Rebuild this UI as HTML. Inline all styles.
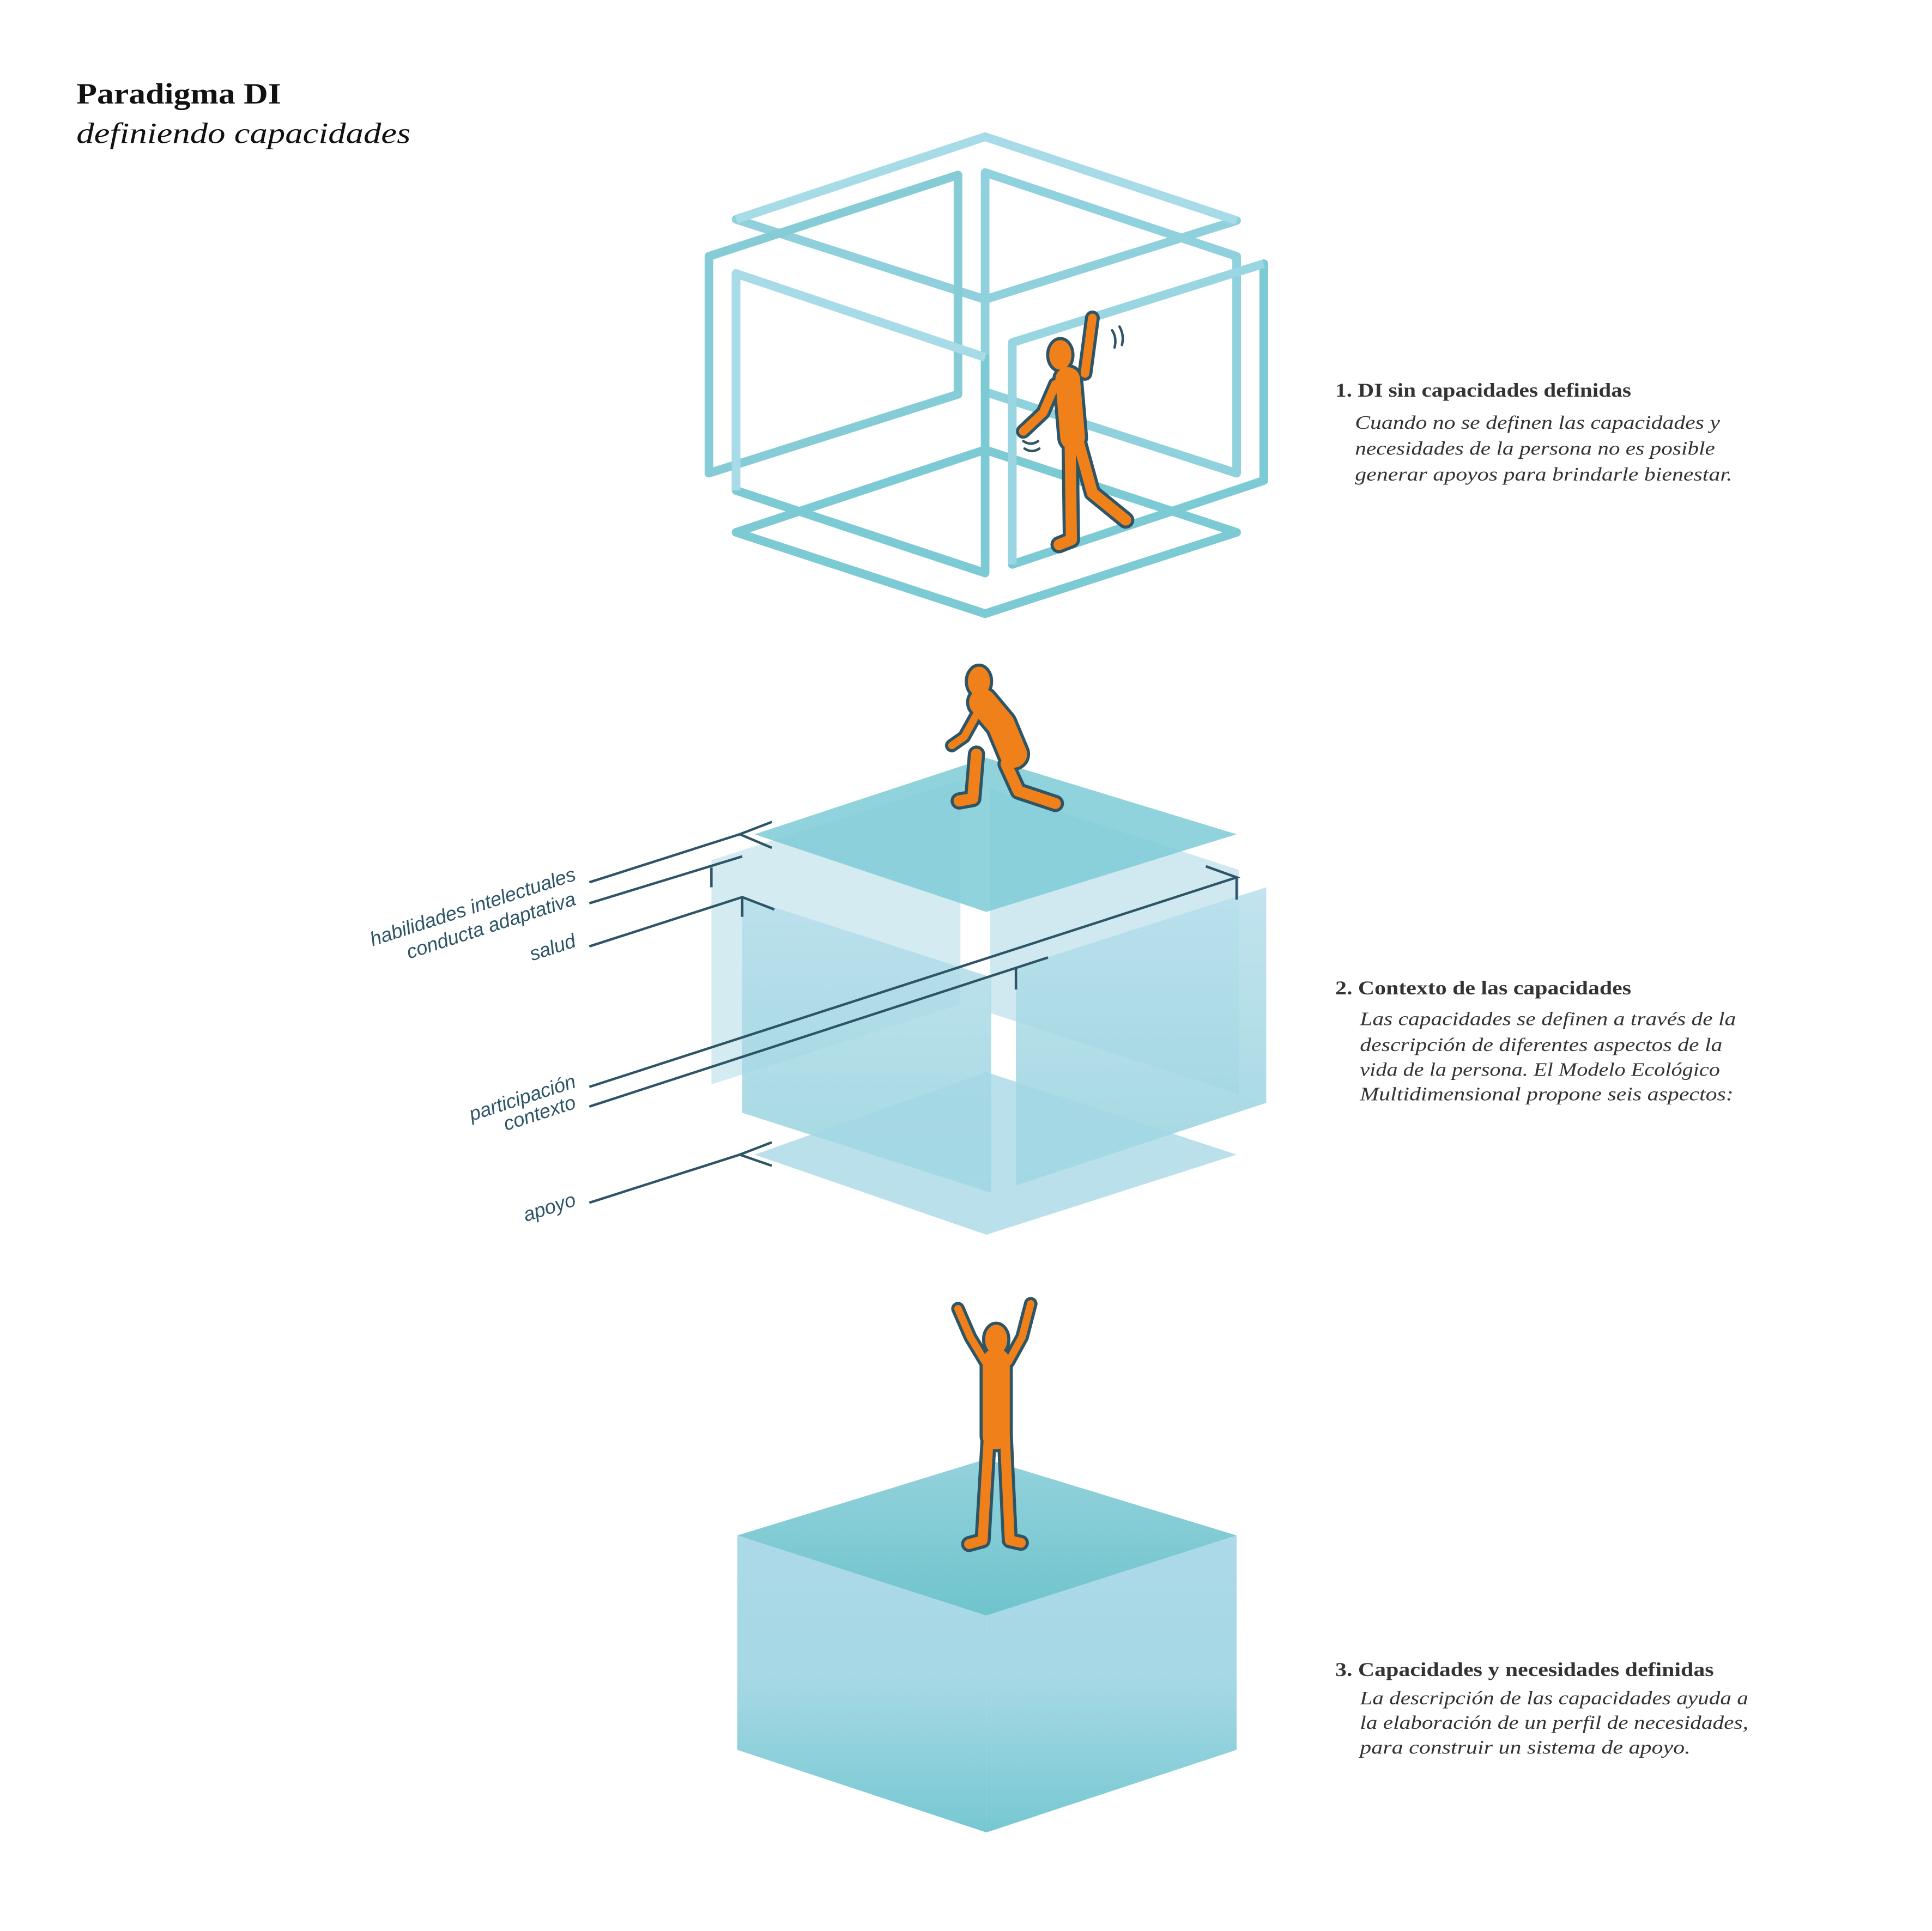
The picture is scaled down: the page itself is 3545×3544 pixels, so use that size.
<!DOCTYPE html>
<html><head><meta charset="utf-8">
<style>
html,body{margin:0;padding:0;background:#fff;}
svg{display:block;}
.ser{font-family:"Liberation Serif",serif;fill:#333;}
.lab{font-family:"Liberation Sans",sans-serif;font-style:italic;fill:#2e5566;font-size:16px;}
</style></head>
<body>
<svg width="3545" height="3544" viewBox="0 0 1567 1567" preserveAspectRatio="none" xmlns="http://www.w3.org/2000/svg">
<defs>
<linearGradient id="gTop" x1="0" y1="0" x2="0" y2="1"><stop offset="0" stop-color="#93d2dc"/><stop offset="1" stop-color="#6fc4cd"/></linearGradient>
<linearGradient id="gSide" x1="0" y1="0" x2="0" y2="1"><stop offset="0" stop-color="#add9e8"/><stop offset="0.5" stop-color="#a5d8e5"/><stop offset="1" stop-color="#76c8d2"/></linearGradient>
<linearGradient id="gWall" x1="0" y1="0" x2="0" y2="1"><stop offset="0" stop-color="#b7dfec"/><stop offset="1" stop-color="#93d1dc"/></linearGradient>
</defs>

<text class="ser" x="62" y="84" font-size="24" font-weight="bold" style="fill:#111" textLength="166" lengthAdjust="spacingAndGlyphs">Paradigma DI</text>
<text class="ser" x="62" y="116" font-size="24" font-style="italic" style="fill:#111" textLength="271" lengthAdjust="spacingAndGlyphs">definiendo capacidades</text>

<g fill="none" stroke-width="7" stroke-linejoin="round">
<polygon points="799,111 1003,179 799,243 597,178" stroke="#8fd0dc"/>
<polyline points="597,178 799,111 1003,179" stroke="#a8dbe8"/>
<polygon points="575,208 777,142 777,320 575,384" stroke="#86ccd7"/>
<polygon points="799,140 1003,208 1003,384 799,318" stroke="#8fd1dc"/>
<polygon points="799,365 1003,432 799,498 597,432" stroke="#7ccad4"/>
<polygon points="597,222 799,290 799,465 597,398" stroke="#7ccad4"/>
<polyline points="597,398 597,222 799,290" stroke="#a8dbe8"/>
<polygon points="821,278 1025,214 1025,390 821,458" stroke="#7ccad4"/>
<polyline points="821,458 821,278 1025,214" stroke="#9ad6e2"/>
</g>

<g fill="none" stroke-linecap="round" stroke-linejoin="round">
<g stroke="#2e5566">
<polyline points="866,308 870,355" stroke-width="25"/>
<polyline points="880,303 886,258" stroke-width="12"/>
<polyline points="856,312 846,335 830,350" stroke-width="12"/>
<polyline points="868,360 869,438 859,442" stroke-width="14"/>
<polyline points="875,360 886,400 913,422" stroke-width="14"/>
<ellipse cx="860" cy="288" rx="10" ry="13" fill="#2e5566" stroke-width="3"/>
</g>
<g stroke="#f0801a">
<polyline points="866,308 870,355" stroke-width="20"/>
<polyline points="880,303 886,258" stroke-width="7"/>
<polyline points="856,312 846,335 830,350" stroke-width="7"/>
<polyline points="868,360 869,438 859,442" stroke-width="9"/>
<polyline points="875,360 886,400 913,422" stroke-width="9"/>
</g>
<ellipse cx="860" cy="288" rx="9" ry="12" fill="#f0801a"/>
<path d="M902,268 Q906,274 904,282 M908,265 Q912,272 910,280 M830,358 Q836,362 842,358 M831,364 Q837,368 843,364" stroke="#2e5566" stroke-width="2"/>
</g>

<g>
<polygon points="577,698 779,633 779,815 577,880" fill="#c9e6ee" opacity="0.8"/>
<polygon points="803,640 1005,706 1005,888 803,822" fill="#c4e4ee" opacity="0.8"/>
<polygon points="602,728 804,793 804,968 602,903" fill="url(#gWall)" opacity="0.85"/>
<polygon points="824,785 1027,720 1027,895 824,962" fill="url(#gWall)" opacity="0.85"/>
<polygon points="612,937 800,870 1003,937 800,1002" fill="#a3d7e4" opacity="0.75"/>
<polygon points="612,677 800,615 1003,677 800,740" fill="#7ecbd6" opacity="0.85"/>
</g>

<g stroke="#2e5566" stroke-width="2" fill="none">
<polyline points="478,716 600,677"/><polyline points="626,667 600,677 626,688"/>
<polyline points="478,733 602,695"/><polyline points="577,704 577,720"/>
<polyline points="478,768 602,728 628,738"/><polyline points="602,728 602,744"/>
<polyline points="478,882 1003,712 978,703"/><polyline points="1003,712 1003,730"/>
<polyline points="478,898 850,777"/><polyline points="824,786 824,803"/>
<polyline points="478,976 600,937"/><polyline points="626,927 600,937 626,946"/>
</g>
<g>
<text class="lab" text-anchor="end" transform="translate(468,714) rotate(-18)">habilidades intelectuales</text>
<text class="lab" text-anchor="end" transform="translate(468,734) rotate(-18)">conducta adaptativa</text>
<text class="lab" text-anchor="end" transform="translate(468,768) rotate(-18)">salud</text>
<text class="lab" text-anchor="end" transform="translate(468,882) rotate(-18)">participación</text>
<text class="lab" text-anchor="end" transform="translate(468,899) rotate(-18)">contexto</text>
<text class="lab" text-anchor="end" transform="translate(468,978) rotate(-18)">apoyo</text>
</g>

<g fill="none" stroke-linecap="round" stroke-linejoin="round">
<g stroke="#2e5566">
<polyline points="797,570 812,588 822,612" stroke-width="27"/>
<polyline points="792,612 789,648 778,650" stroke-width="14"/>
<polyline points="816,620 826,642 856,652" stroke-width="14"/>
<polyline points="792,580 782,598 772,605" stroke-width="11"/>
<ellipse cx="794" cy="553" rx="10" ry="13" fill="#2e5566" stroke-width="3"/>
</g>
<g stroke="#f0801a">
<polyline points="797,570 812,588 822,612" stroke-width="22"/>
<polyline points="792,612 789,648 778,650" stroke-width="9"/>
<polyline points="816,620 826,642 856,652" stroke-width="9"/>
<polyline points="792,580 782,598 772,605" stroke-width="6"/>
</g>
<ellipse cx="794" cy="553" rx="9" ry="12" fill="#f0801a"/>
</g>

<g>
<polygon points="598,1246 800,1311 800,1487 598,1420" fill="url(#gSide)"/>
<polygon points="800,1311 1003,1246 1003,1420 800,1487" fill="url(#gSide)"/>
<polygon points="598,1246 800,1184 1003,1246 800,1311" fill="url(#gTop)"/>
</g>

<g fill="none" stroke-linecap="round" stroke-linejoin="round">
<g stroke="#2e5566">
<polyline points="808,1105 808,1165" stroke-width="27"/>
<polyline points="802,1165 797,1250 786,1253" stroke-width="13"/>
<polyline points="815,1165 819,1250 828,1252" stroke-width="13"/>
<polyline points="799,1105 787,1085 777,1062" stroke-width="11"/>
<polyline points="818,1105 829,1085 836,1058" stroke-width="11"/>
<ellipse cx="808" cy="1087" rx="10" ry="13" fill="#2e5566" stroke-width="3"/>
</g>
<g stroke="#f0801a">
<polyline points="808,1105 808,1165" stroke-width="22"/>
<polyline points="802,1165 797,1250 786,1253" stroke-width="8"/>
<polyline points="815,1165 819,1250 828,1252" stroke-width="8"/>
<polyline points="799,1105 787,1085 777,1062" stroke-width="6"/>
<polyline points="818,1105 829,1085 836,1058" stroke-width="6"/>
</g>
<ellipse cx="808" cy="1087" rx="9" ry="12" fill="#f0801a"/>
</g>

<g class="ser" font-size="15.5" lengthAdjust="spacingAndGlyphs">
<text x="1083" y="322" font-weight="bold" font-size="16" textLength="240" lengthAdjust="spacingAndGlyphs">1. DI sin capacidades definidas</text>
<text x="1099" y="348" font-style="italic" textLength="296" lengthAdjust="spacingAndGlyphs">Cuando no se definen las capacidades y</text>
<text x="1099" y="369" font-style="italic" textLength="292" lengthAdjust="spacingAndGlyphs">necesidades de la persona no es posible</text>
<text x="1099" y="390" font-style="italic" textLength="306" lengthAdjust="spacingAndGlyphs">generar apoyos para brindarle bienestar.</text>
</g>
<g class="ser" font-size="15.5">
<text x="1083" y="807" font-weight="bold" font-size="16" textLength="240" lengthAdjust="spacingAndGlyphs">2. Contexto de las capacidades</text>
<text x="1103" y="832" font-style="italic" textLength="305" lengthAdjust="spacingAndGlyphs">Las capacidades se definen a través de la</text>
<text x="1103" y="853" font-style="italic" textLength="294" lengthAdjust="spacingAndGlyphs">descripción de diferentes aspectos de la</text>
<text x="1103" y="873" font-style="italic" textLength="292" lengthAdjust="spacingAndGlyphs">vida de la persona. El Modelo Ecológico</text>
<text x="1103" y="893" font-style="italic" textLength="303" lengthAdjust="spacingAndGlyphs">Multidimensional propone seis aspectos:</text>
</g>
<g class="ser" font-size="15.5">
<text x="1083" y="1360" font-weight="bold" font-size="16" textLength="307" lengthAdjust="spacingAndGlyphs">3. Capacidades y necesidades definidas</text>
<text x="1103" y="1383" font-style="italic" textLength="315" lengthAdjust="spacingAndGlyphs">La descripción de las capacidades ayuda a</text>
<text x="1103" y="1403" font-style="italic" textLength="315" lengthAdjust="spacingAndGlyphs">la elaboración de un perfil de necesidades,</text>
<text x="1103" y="1423" font-style="italic" textLength="268" lengthAdjust="spacingAndGlyphs">para construir un sistema de apoyo.</text>
</g>
</svg>
</body></html>
